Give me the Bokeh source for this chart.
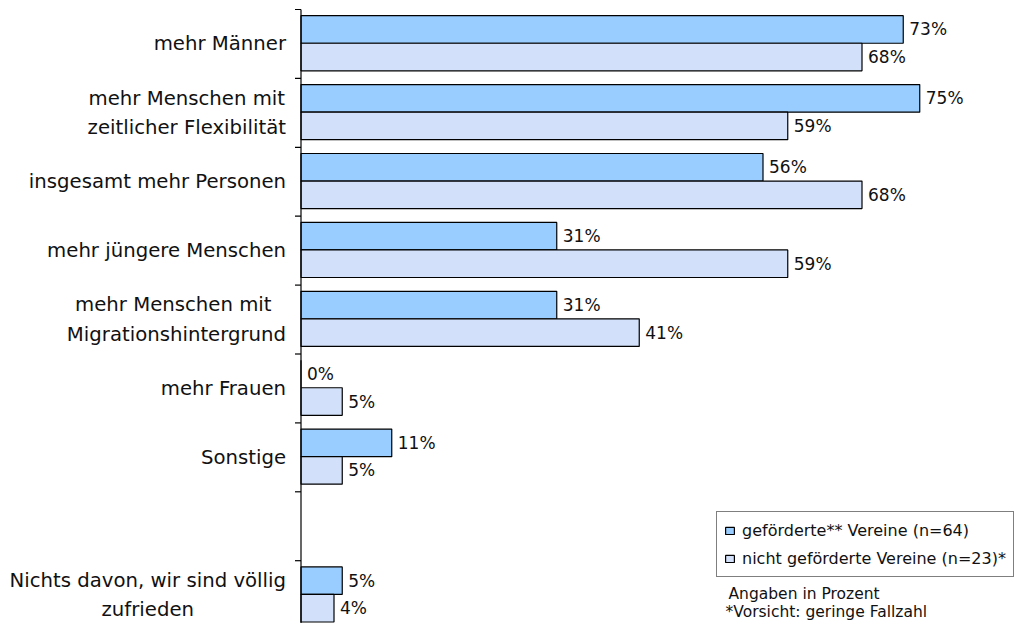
from bokeh.plotting import figure
from bokeh.models import ColumnDataSource, Range1d, Legend, LegendItem, Label
from bokeh.core.properties import value
from bokeh.embed import file_html
from bokeh.resources import INLINE

categories = [
    "mehr Männer",
    "mehr Menschen mit\nzeitlicher Flexibilität",
    "insgesamt mehr Personen",
    "mehr jüngere Menschen",
    "mehr Menschen mit \nMigrationshintergrund",
    "mehr Frauen",
    "Sonstige",
    "",
    "Nichts davon, wir sind völlig\nzufrieden",
]
gefoerdert = [73, 75, 56, 31, 31, 0, 11, None, 5]
nicht_gefoerdert = [68, 59, 68, 59, 41, 5, 5, None, 4]
series_names = ["geförderte** Vereine (n=64)", "nicht geförderte Vereine (n=23)*"]
notes = ["Angaben in Prozent", "*Vorsicht: geringe Fallzahl"]

C_BLUE = "#99CCFF"
C_LIGHT = "#D3E0FA"
FONT = "DejaVu Sans"

W, H = 1019, 623
PX_PER_PCT = 8.25
AXIS_PX = 300.5          # axis position from the frame's left edge
SLOT_PX = 68.9
TOP_PX = 9.0

x_start = -AXIS_PX / PX_PER_PCT
x_end = (W - AXIS_PX) / PX_PER_PCT
y_top = -TOP_PX / SLOT_PX
y_bottom = (H - TOP_PX) / SLOT_PX

p = figure(width=W, height=H, output_backend="svg", toolbar_location=None,
           x_range=Range1d(x_start, x_end), y_range=Range1d(y_bottom, y_top),
           x_axis_type=None, y_axis_type=None, min_border=0,
           outline_line_color=None, background_fill_color="white",
           border_fill_color="white")
p.grid.visible = False

idx = [i for i, v in enumerate(gefoerdert) if v is not None]
src_a = ColumnDataSource(dict(
    y=[i + 0.29 for i in idx],
    v=[gefoerdert[i] for i in idx],
    t=[f"{gefoerdert[i]}%" for i in idx]))
src_b = ColumnDataSource(dict(
    y=[i + 0.69 for i in idx],
    v=[nicht_gefoerdert[i] for i in idx],
    t=[f"{nicht_gefoerdert[i]}%" for i in idx]))

r_a = p.hbar(y="y", right="v", left=0, height=0.4, source=src_a,
             fill_color=C_BLUE, line_color="black", line_width=1.2)
r_b = p.hbar(y="y", right="v", left=0, height=0.4, source=src_b,
             fill_color=C_LIGHT, line_color="black", line_width=1.2)

for src in (src_a, src_b):
    p.text(x="v", y="y", text="t", source=src, x_offset=6,
           text_align="left", text_baseline="middle",
           text_font=value(FONT), text_font_size="17px", text_color="#111111")

# category labels
cat_src = ColumnDataSource(dict(
    x=[0] * len(categories),
    y=[i + 0.5 for i in range(len(categories))],
    t=categories))
p.text(x="x", y="y", text="t", source=cat_src, x_offset=-15,
       anchor="center_right", text_align="center", text_baseline="middle",
       text_line_height=1.29,
       text_font=value(FONT), text_font_size="19.7px", text_color="#111111")

# axis line and ticks at category boundaries
n = len(categories)
p.segment(x0=[0], y0=[0], x1=[0], y1=[n], line_color="black", line_width=1.2)
tick_len = 6 / PX_PER_PCT
p.segment(x0=[-tick_len] * (n + 1), y0=list(range(n + 1)),
          x1=[0] * (n + 1), y1=list(range(n + 1)),
          line_color="black", line_width=1.2)

legend = Legend(items=[LegendItem(label=series_names[0], renderers=[r_a]),
                       LegendItem(label=series_names[1], renderers=[r_b])],
                location=(716, 46), margin=0, padding=7, spacing=6,
                glyph_width=11, glyph_height=9, label_standoff=7,
                label_height=22,
                label_text_font=FONT, label_text_font_size="16px",
                label_text_color="#111111",
                border_line_color="black", border_line_width=1,
                background_fill_color="white", background_fill_alpha=1)
p.add_layout(legend)

p.add_layout(Label(x=728, y=30, x_units="screen", y_units="screen",
                   text=notes[0], text_font=FONT, text_font_size="15.5px",
                   text_baseline="middle", text_color="#111111"))
p.add_layout(Label(x=725, y=12, x_units="screen", y_units="screen",
                   text=notes[1], text_font=FONT, text_font_size="15.5px",
                   text_baseline="middle", text_color="#111111"))

open("out.html", "w").write(file_html(p, INLINE))
